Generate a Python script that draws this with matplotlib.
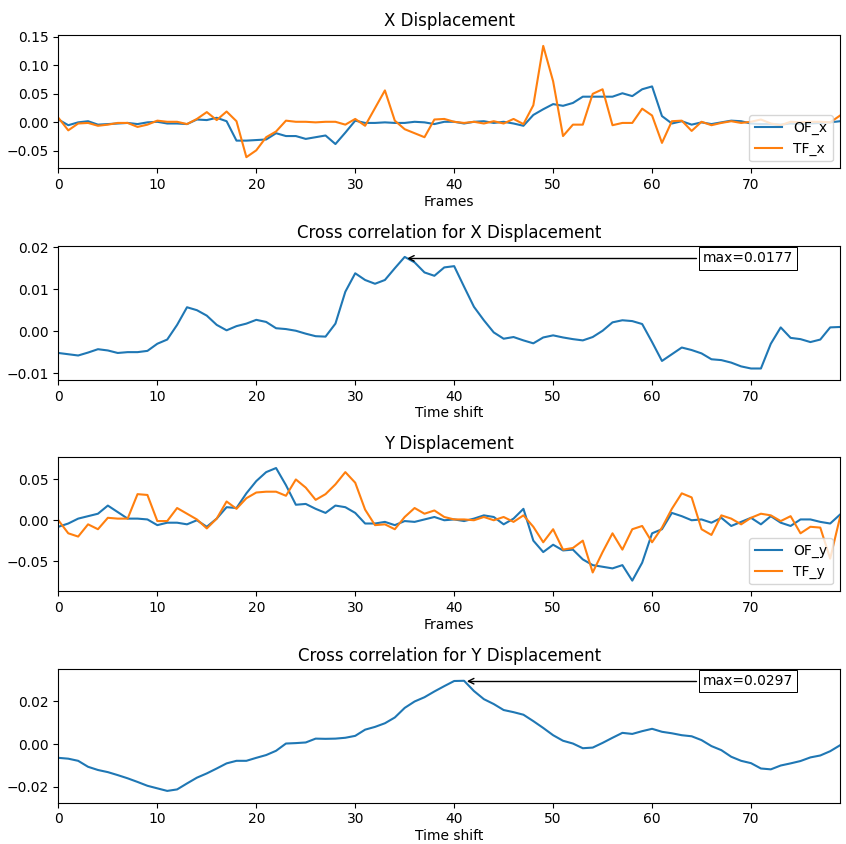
import numpy as np
import matplotlib
matplotlib.use("Agg")
import matplotlib.pyplot as plt
from matplotlib.ticker import MultipleLocator

# X displacement per frame
of_x = [0.005, -0.005, 0.000, 0.002, -0.004, -0.003, -0.002, -0.001, -0.003, 0.000,
        0.001, -0.002, -0.002, -0.003, 0.005, 0.004, 0.008, 0.002, -0.032, -0.032,
        -0.031, -0.030, -0.019, -0.024, -0.024, -0.029, -0.026, -0.023, -0.038, -0.018,
        0.003, -0.001, -0.001, 0.000, -0.001, -0.001, 0.001, 0.000, -0.003, 0.001,
        0.001, -0.002, 0.001, 0.002, -0.001, 0.001, -0.002, -0.006, 0.013, 0.023,
        0.032, 0.029, 0.034, 0.045, 0.045, 0.045, 0.045, 0.051, 0.046, 0.058,
        0.063, 0.011, -0.002, 0.002, -0.004, 0.000, -0.003, 0.000, 0.003, 0.002,
        -0.002, -0.003, -0.003, -0.004, -0.002, -0.003, -0.002, -0.001, 0.000, 0.002]
tf_x = [0.008, -0.014, -0.002, -0.001, -0.006, -0.004, -0.001, -0.001, -0.008, -0.004,
        0.003, 0.001, 0.001, -0.003, 0.006, 0.018, 0.004, 0.019, 0.002, -0.061,
        -0.049, -0.026, -0.016, 0.003, 0.001, 0.001, 0.000, 0.001, 0.001, -0.004,
        0.006, -0.006, 0.025, 0.056, 0.003, -0.012, -0.019, -0.026, 0.005, 0.006,
        0.001, -0.001, 0.001, -0.002, 0.002, -0.002, 0.006, -0.003, 0.030, 0.134,
        0.072, -0.024, -0.004, -0.004, 0.050, 0.058, -0.005, -0.001, -0.001, 0.024,
        0.012, -0.036, 0.002, 0.003, -0.015, 0.001, -0.005, -0.001, 0.002, -0.001,
        0.001, 0.005, -0.002, -0.005, 0.001, 0.000, 0.001, 0.001, 0.000, 0.012]

# Y displacement per frame
of_y = [-0.008, -0.004, 0.002, 0.005, 0.008, 0.018, 0.010, 0.002, 0.002, 0.001,
        -0.006, -0.003, -0.003, -0.005, 0.000, -0.008, 0.002, 0.016, 0.015, 0.033,
        0.048, 0.059, 0.064, 0.043, 0.019, 0.020, 0.014, 0.009, 0.018, 0.016,
        0.009, -0.004, -0.004, -0.002, -0.006, -0.001, -0.002, 0.001, 0.004, 0.000,
        0.001, -0.001, 0.002, 0.006, 0.004, -0.005, 0.002, 0.014, -0.025, -0.039,
        -0.030, -0.037, -0.036, -0.048, -0.055, -0.057, -0.059, -0.055, -0.074, -0.052,
        -0.016, -0.011, 0.009, 0.005, 0.000, 0.001, -0.003, 0.003, -0.007, -0.002,
        0.003, -0.005, 0.005, -0.003, -0.007, 0.001, 0.001, -0.002, -0.004, 0.007]
tf_y = [0.000, -0.016, -0.020, -0.005, -0.011, 0.003, 0.002, 0.002, 0.032, 0.031,
        -0.001, -0.001, 0.015, 0.008, 0.001, -0.010, 0.002, 0.023, 0.014, 0.027,
        0.034, 0.035, 0.035, 0.030, 0.050, 0.040, 0.025, 0.032, 0.044, 0.059,
        0.046, 0.013, -0.006, -0.005, -0.011, 0.004, 0.015, 0.008, 0.012, 0.004,
        0.001, 0.001, 0.000, 0.004, 0.000, 0.004, -0.002, 0.006, -0.008, -0.027,
        -0.011, -0.036, -0.034, -0.025, -0.064, -0.039, -0.016, -0.036, -0.011, -0.007,
        -0.027, -0.009, 0.014, 0.033, 0.028, -0.011, -0.018, 0.006, 0.002, -0.005,
        0.003, 0.008, 0.006, -0.001, 0.005, -0.016, -0.008, -0.009, -0.047, 0.004]

# cross correlations by time shift
cc_x = [-0.0052, -0.0055, -0.0058, -0.0051, -0.0043, -0.0046, -0.0052, -0.0050, -0.0050, -0.0047,
        -0.0030, -0.0020, 0.0015, 0.0057, 0.0050, 0.0037, 0.0015, 0.0002, 0.0012, 0.0018,
        0.0027, 0.0022, 0.0007, 0.0005, 0.0001, -0.0006, -0.0012, -0.0013, 0.0018, 0.0094,
        0.0138, 0.0122, 0.0113, 0.0122, 0.0150, 0.0177, 0.0164, 0.0140, 0.0132, 0.0152,
        0.0155, 0.0106, 0.0058, 0.0026, -0.0003, -0.0018, -0.0014, -0.0022, -0.0029, -0.0015,
        -0.0010, -0.0015, -0.0019, -0.0022, -0.0014, 0.0001, 0.0021, 0.0026, 0.0024, 0.0017,
        -0.0026, -0.0071, -0.0055, -0.0039, -0.0045, -0.0053, -0.0067, -0.0069, -0.0075, -0.0084,
        -0.0089, -0.0089, -0.0030, 0.0009, -0.0016, -0.0019, -0.0026, -0.0020, 0.0009, 0.0010]
cc_y = [-0.0064, -0.0068, -0.0078, -0.0106, -0.0121, -0.0131, -0.0145, -0.0160, -0.0177, -0.0195,
        -0.0207, -0.0219, -0.0212, -0.0184, -0.0157, -0.0137, -0.0114, -0.0090, -0.0078, -0.0078,
        -0.0064, -0.0051, -0.0031, 0.0003, 0.0005, 0.0008, 0.0026, 0.0025, 0.0026, 0.0030,
        0.0039, 0.0068, 0.0081, 0.0098, 0.0125, 0.0170, 0.0200, 0.0220, 0.0247, 0.0272,
        0.0296, 0.0297, 0.0249, 0.0211, 0.0188, 0.0160, 0.0150, 0.0138, 0.0108, 0.0076,
        0.0042, 0.0016, 0.0003, -0.0019, -0.0016, 0.0006, 0.0030, 0.0053, 0.0048, 0.0061,
        0.0072, 0.0058, 0.0051, 0.0042, 0.0037, 0.0019, -0.0009, -0.0028, -0.0059, -0.0078,
        -0.0089, -0.0114, -0.0118, -0.0100, -0.0090, -0.0079, -0.0062, -0.0053, -0.0033, -0.0005]

frames = np.arange(len(of_x))
shifts = np.arange(len(cc_x))


def annot_max(x, y, ax):
    y = np.asarray(y)
    i = np.argmax(y)
    bbox_props = dict(boxstyle="square,pad=0.3", fc="w", ec="k", lw=0.72)
    arrowprops = dict(arrowstyle="->", connectionstyle="angle,angleA=0,angleB=60")
    ax.annotate("max={:.4f}".format(y[i]), xy=(x[i], y[i]), xytext=(0.94, 0.96),
                xycoords="data", textcoords="axes fraction",
                arrowprops=arrowprops, bbox=bbox_props, ha="right", va="top")


fig, axs = plt.subplots(4, 1, figsize=(8.46, 8.44), dpi=100)

ax = axs[0]
ax.plot(frames, of_x, label="OF_x")
ax.plot(frames, tf_x, label="TF_x")
ax.set_xlim(0, 79)
ax.set_ylim(-0.0807, 0.1538)
ax.yaxis.set_major_locator(MultipleLocator(0.05))
ax.set_title("X Displacement")
ax.set_xlabel("Frames", labelpad=2)
ax.legend(loc="lower right")

ax = axs[1]
ax.plot(shifts, cc_x)
ax.set_xlim(0, 79)
ax.set_ylim(-0.0116, 0.0203)
ax.set_title("Cross correlation for X Displacement")
ax.set_xlabel("Time shift", labelpad=2)
annot_max(shifts, cc_x, ax)

ax = axs[2]
ax.plot(frames, of_y, label="OF_y")
ax.plot(frames, tf_y, label="TF_y")
ax.set_xlim(0, 79)
ax.set_ylim(-0.087, 0.077)
ax.set_title("Y Displacement")
ax.set_xlabel("Frames", labelpad=2)
ax.legend(loc="lower right")

ax = axs[3]
ax.plot(shifts, cc_y)
ax.set_xlim(0, 79)
ax.set_ylim(-0.0274, 0.0353)
ax.set_title("Cross correlation for Y Displacement")
ax.set_xlabel("Time shift", labelpad=2)
annot_max(shifts, cc_y, ax)

fig.subplots_adjust(left=0.069, right=0.993, top=0.959, bottom=0.049, hspace=0.58)
fig.savefig("out.png", dpi=100)
